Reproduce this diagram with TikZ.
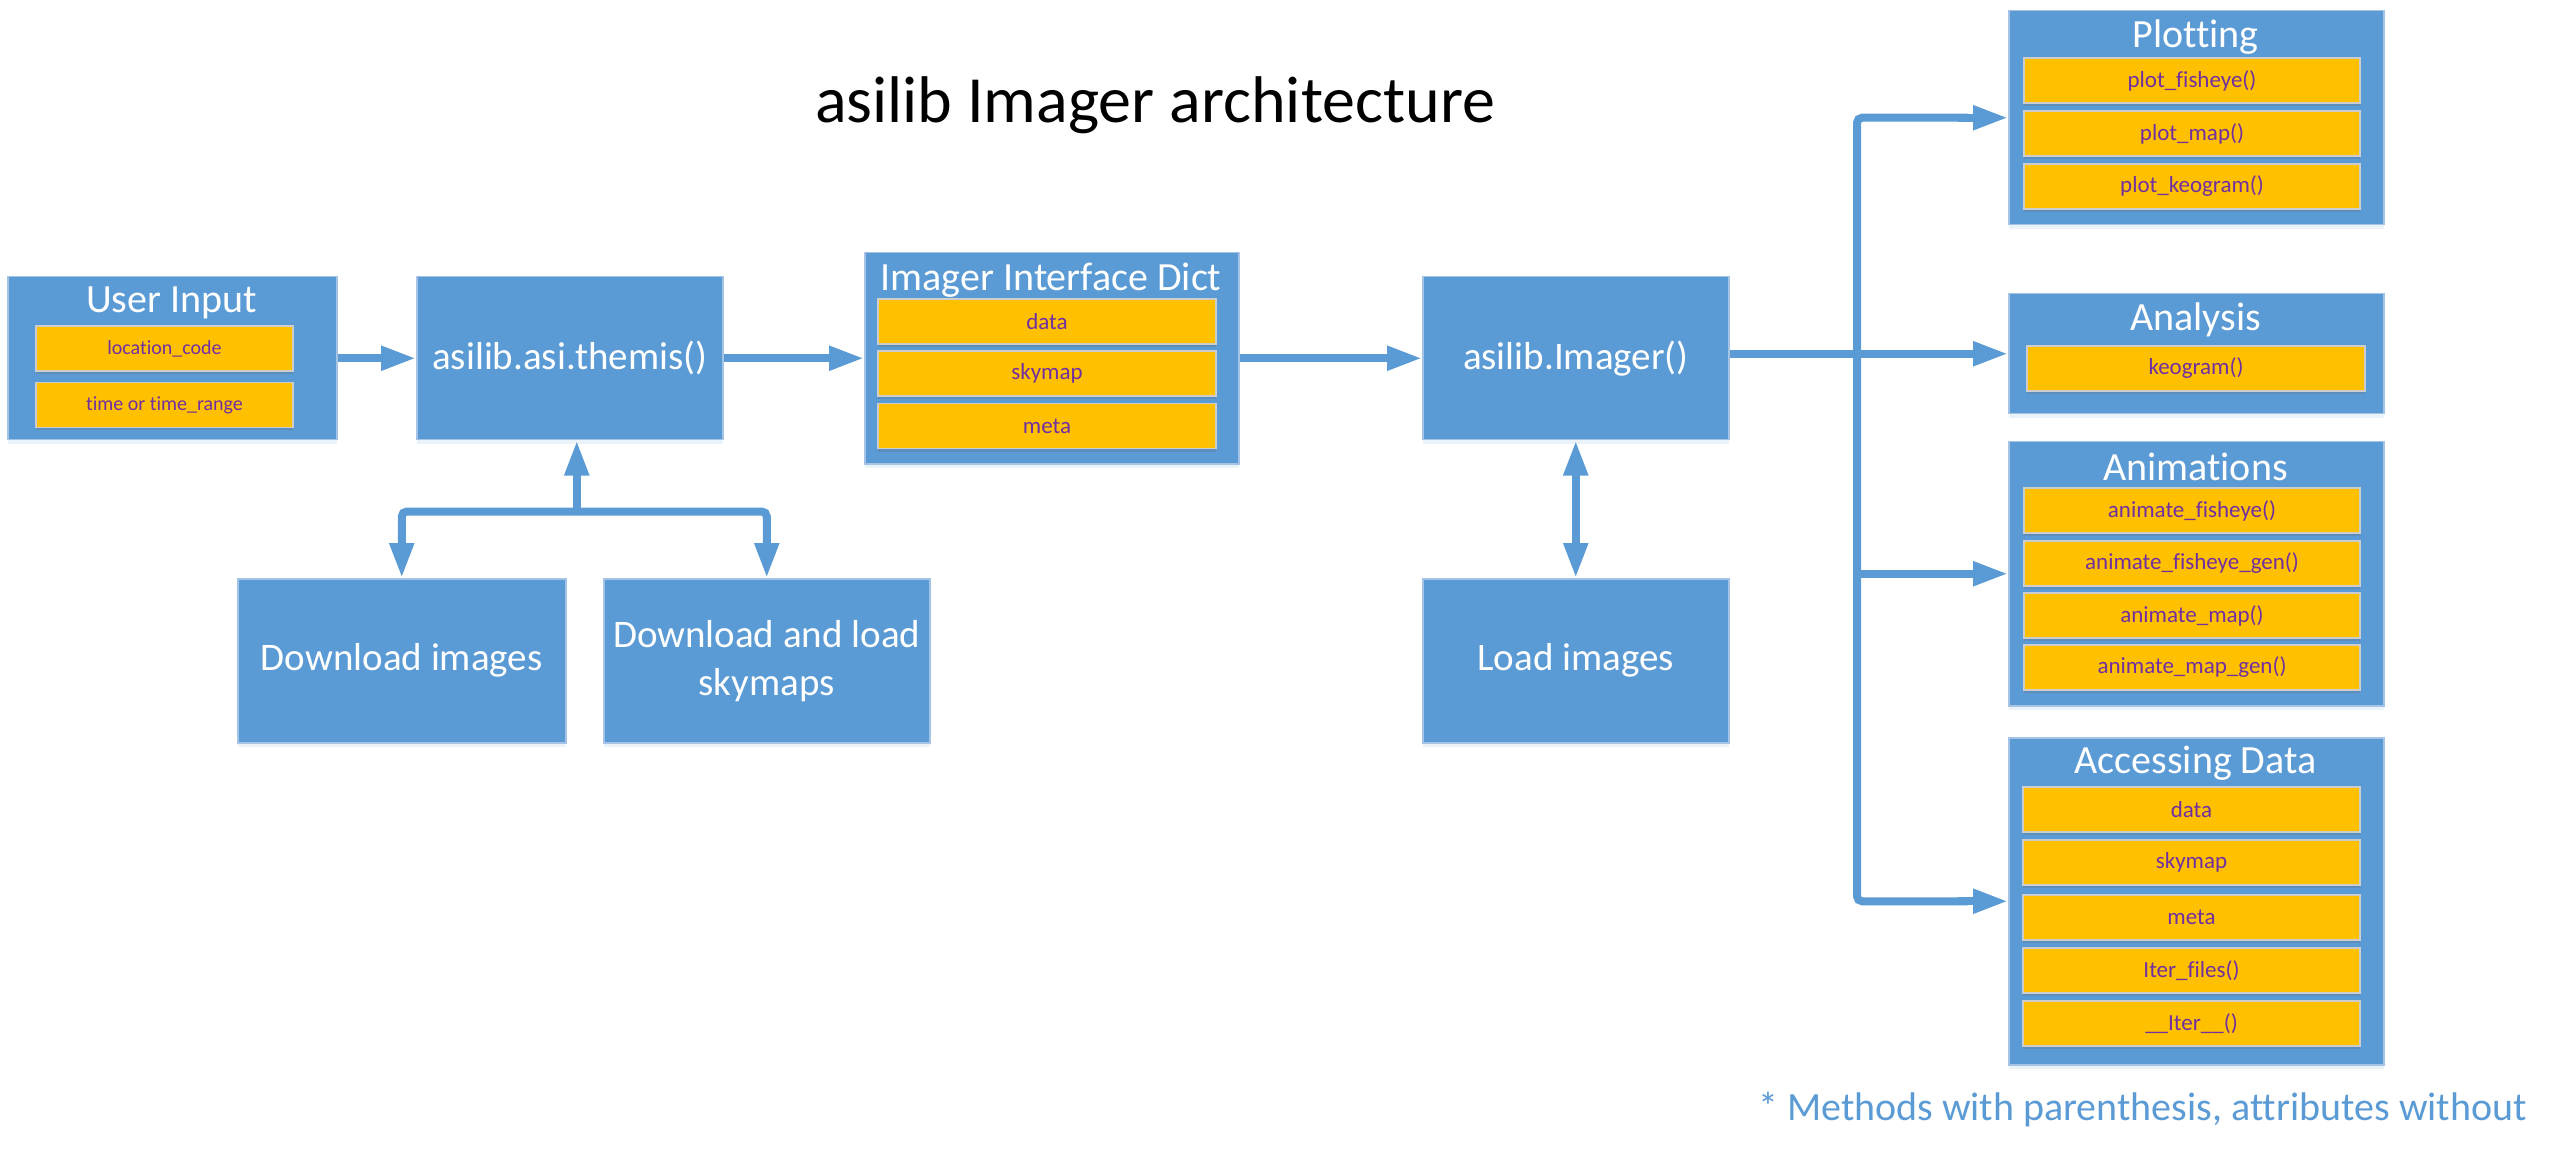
\documentclass[tikz,border=0pt]{standalone}
\usepackage{fontspec}
\setmainfont{Carlito}[Ligatures={NoCommon}]
\usetikzlibrary{arrows.meta,shadows,calc}
\definecolor{boxblue}{RGB}{91,155,213}
\definecolor{boxedge}{RGB}{165,195,228}
\definecolor{gold}{RGB}{255,192,0}
\definecolor{goldedge}{RGB}{205,205,205}
\definecolor{itemtext}{RGB}{112,48,160}
\definecolor{notecol}{RGB}{91,155,213}
\tikzset{
  bluebox/.style={draw=boxedge, line width=1.5pt, fill=boxblue, anchor=north west,
    inner sep=0pt, text=white, align=center,
    drop shadow={shadow xshift=0pt, shadow yshift=-4pt, opacity=0.12, fill=boxblue}},
  bigtext/.style={font=\fontsize{39}{48}\selectfont},
  boxtitle/.style={text=white, inner sep=0pt, font=\fontsize{40}{48}\selectfont},
  itembox/.style={draw=goldedge, line width=1.5pt, fill=gold, inner sep=0pt,
    text=itemtext, minimum height=45pt,
    drop shadow={shadow xshift=0pt, shadow yshift=-3pt, opacity=0.25, fill=black!60}},
  smallitem/.style={itembox, font=\fontsize{20}{24}\selectfont},
  miditem/.style={itembox, font=\fontsize{23}{27}\selectfont},
  arr/.style={draw=boxblue, line width=8pt, -{Triangle[length=35pt,width=23pt]}},
  darr/.style={draw=boxblue, line width=8pt, {Triangle[length=35pt,width=23pt]}-{Triangle[length=35pt,width=23pt]}},
  bus/.style={draw=boxblue, line width=8pt, rounded corners=5pt},
}
\begin{document}
\begin{tikzpicture}[x=1pt,y=-1pt]
\useasboundingbox (0,0) rectangle (2560,1155);

% title
\node[anchor=base, inner sep=0pt, font=\fontsize{66}{78}\selectfont] (title) at (1155,123) {asilib Imager architecture};

% user input
\node[bluebox, minimum width=329pt, minimum height=163pt] (ui) at (7,276) {};
\node[boxtitle] (uit) at (171.5,303) {User Input};
\node[smallitem, minimum width=257pt] (ui1) at (164.5,348.5) {location\_code};
\node[smallitem, minimum width=257pt] (ui2) at (164.5,405) {time or time\_range};

% themis
\node[bluebox, bigtext, minimum width=306pt, minimum height=163pt] (themis) at (416,276) {asilib.asi.themis()};

% interface dict
\node[bluebox, minimum width=374pt, minimum height=211pt] (dict) at (864,252) {};
\node[boxtitle] (dictt) at (1051,280) {Imager Interface Dict};
\node[miditem, minimum width=338pt] (d1) at (1047,321.5) {data};
\node[miditem, minimum width=338pt] (d2) at (1047,373.5) {skymap};
\node[miditem, minimum width=338pt] (d3) at (1047,426) {meta};

% imager
\node[bluebox, bigtext, minimum width=306pt, minimum height=163pt] (imager) at (1422,276) {asilib.Imager()};
\node[bluebox, bigtext, minimum width=306pt, minimum height=164pt] (load) at (1422,578) {Load images};

% downloads
\node[bluebox, bigtext, minimum width=328pt, minimum height=164pt] (dl) at (237,578) {Download images};
\node[bluebox, bigtext, minimum width=326pt, minimum height=164pt] (sky) at (603,578) {Download and load\\skymaps};

% plotting
\node[bluebox, minimum width=375pt, minimum height=214pt] (plot) at (2008,10) {};
\node[boxtitle] (plott) at (2195.5,37) {Plotting};
\node[miditem, minimum width=336pt] (p1) at (2192,80.5) {plot\_fisheye()};
\node[miditem, minimum width=336pt] (p2) at (2192,133.5) {plot\_map()};
\node[miditem, minimum width=336pt] (p3) at (2192,186.5) {plot\_keogram()};

% analysis
\node[bluebox, minimum width=375pt, minimum height=120pt] (ana) at (2008,293) {};
\node[boxtitle] (anat) at (2195.5,320) {Analysis};
\node[miditem, minimum width=338pt] (a1) at (2196,368.5) {keogram()};

% animations
\node[bluebox, minimum width=375pt, minimum height=264pt] (anim) at (2008,441) {};
\node[boxtitle] (animt) at (2195.5,467) {Animations};
\node[miditem, minimum width=336pt] (n1) at (2192,510.5) {animate\_fisheye()};
\node[miditem, minimum width=336pt] (n2) at (2192,563.5) {animate\_fisheye\_gen()};
\node[miditem, minimum width=336pt] (n3) at (2192,615.5) {animate\_map()};
\node[miditem, minimum width=336pt] (n4) at (2192,667.5) {animate\_map\_gen()};

% accessing data
\node[bluebox, minimum width=375pt, minimum height=327pt] (acc) at (2008,737) {};
\node[boxtitle] (acct) at (2195.5,763) {Accessing Data};
\node[miditem, minimum width=337pt] (c1) at (2191.5,809.5) {data};
\node[miditem, minimum width=337pt] (c2) at (2191.5,862.5) {skymap};
\node[miditem, minimum width=337pt] (c3) at (2191.5,917.5) {meta};
\node[miditem, minimum width=337pt] (c4) at (2191.5,970.5) {Iter\_files()};
\node[miditem, minimum width=337pt] (c5) at (2191.5,1023.5) {\_\_Iter\_\_()};

% footnote
\node[anchor=base east, inner sep=0pt, text=notecol, font=\fontsize{40}{48}\selectfont] (note) at (2527,1120) {* Methods with parenthesis, attributes without};

% connectors
\draw[arr] (ui.east) -- (themis.west);
\draw[arr] (themis.east) -- (themis.east -| dict.west);
\draw[arr] (imager.west -| dict.east) -- (imager.west);
\draw[darr] (imager.south) -- (load.north);

\coordinate (split) at ($(themis.south)+(7,71)$);
\draw[arr] (split) -- (split |- themis.south);
\draw[bus] (split) -| ($(dl.north)+(0,-30)$);
\draw[bus] (split) -| ($(sky.north)+(0,-30)$);
\draw[arr] ($(dl.north)+(0,-40)$) -- (dl.north);
\draw[arr] ($(sky.north)+(0,-40)$) -- (sky.north);

\coordinate (busc) at (1857,353);
\draw[arr] (imager.east |- ana.west) -- (ana.west);
\draw[bus] (busc) |- ($(plot.west)+(-40,0)$);
\draw[arr] ($(plot.west)+(-50,0)$) -- (plot.west);
\draw[bus] (busc) |- ($(acc.west)+(-40,0)$);
\draw[arr] ($(acc.west)+(-50,0)$) -- (acc.west);
\draw[arr] (busc |- anim.west) -- (anim.west);
\end{tikzpicture}
\end{document}
